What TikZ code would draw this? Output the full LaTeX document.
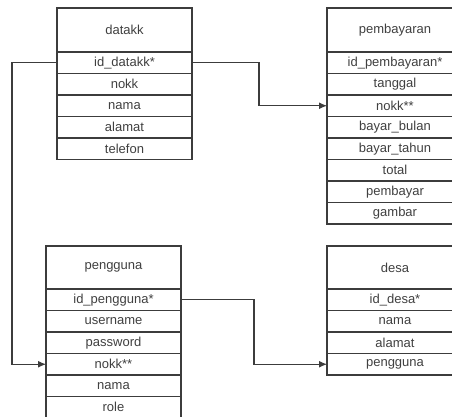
\documentclass[tikz,border=0pt]{standalone}
\usepackage{fontspec}
\setmainfont{Liberation Sans}
\usetikzlibrary{arrows.meta}
\definecolor{ln}{HTML}{3C3C3C}
\definecolor{tx}{HTML}{404040}
\tikzset{
  cell/.style={draw=ln, line width=1.1pt, fill=white, minimum width=135pt, inner sep=0pt, outer sep=0pt,
    text=tx, font=\fontsize{13}{15}\selectfont},
  hdr/.style={cell, minimum height=44pt, anchor=north west},
  rowc/.style={cell, minimum height=21.5pt, anchor=north},
  link/.style={draw=ln, line width=1.1pt, -{Latex[length=8pt,width=7pt]}}
}
\begin{document}
\begin{tikzpicture}[x=1pt,y=-1pt]
\useasboundingbox (0,0) rectangle (452,417);
\clip (0,0) rectangle (452,417);
% datakk
\node[hdr] (d0) at (57,8) {datakk};
\node[rowc] (d1) at (d0.south) {id\_datakk*};
\node[rowc] (d2) at (d1.south) {nokk};
\node[rowc] (d3) at (d2.south) {nama};
\node[rowc] (d4) at (d3.south) {alamat};
\node[rowc] (d5) at (d4.south) {telefon};
% pembayaran
\node[hdr, minimum width=136pt] (p0) at (327,8) {pembayaran};
\node[rowc, minimum width=136pt] (p1) at (p0.south) {id\_pembayaran*};
\node[rowc, minimum width=136pt] (p2) at (p1.south) {tanggal};
\node[rowc, minimum width=136pt] (p3) at (p2.south) {nokk**};
\node[rowc, minimum width=136pt] (p4) at (p3.south) {bayar\_bulan};
\node[rowc, minimum width=136pt] (p5) at (p4.south) {bayar\_tahun};
\node[rowc, minimum width=136pt] (p6) at (p5.south) {total};
\node[rowc, minimum width=136pt] (p7) at (p6.south) {pembayar};
\node[rowc, minimum width=136pt] (p8) at (p7.south) {gambar};
% pengguna
\node[hdr, minimum height=43pt] (g0) at (46,246) {pengguna};
\node[rowc] (g1) at (g0.south) {id\_pengguna*};
\node[rowc] (g2) at (g1.south) {username};
\node[rowc] (g3) at (g2.south) {password};
\node[rowc] (g4) at (g3.south) {nokk**};
\node[rowc] (g5) at (g4.south) {nama};
\node[rowc] (g6) at (g5.south) {role};
% desa
\node[hdr, minimum height=43pt, minimum width=136pt] (e0) at (327,246) {desa};
\node[rowc, minimum width=136pt] (e1) at (e0.south) {id\_desa*};
\node[rowc, minimum width=136pt] (e2) at (e1.south) {nama};
\node[rowc, minimum width=136pt] (e3) at (e2.south) {alamat};
\node[rowc, minimum width=136pt] (e4) at (e3.south) {pengguna};
% links
\draw[link] (d1.west) -- ++(-45,0) |- (g4.west);
\draw[link] (d1.east) -- ++(67,0) |- (p3.west);
\draw[link] (g1.east) -- ++(73,0) |- (e4.west);
\end{tikzpicture}
\end{document}
